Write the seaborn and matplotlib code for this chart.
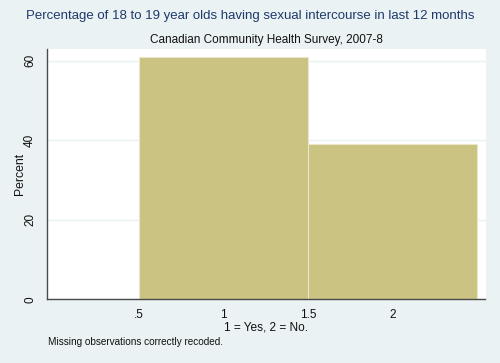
import numpy as np
import pandas as pd
import seaborn as sns
import matplotlib.pyplot as plt

# === DATA ===
#response codes (1 = yes, 2 = no) and their share in percent
codes = [1, 2]
percent = [61, 39]
bin_edges = [0.5, 1.5, 2.5]
x_ticks = [0.5, 1, 1.5, 2]
x_tick_labels = ['.5', '1', '1.5', '2']
y_ticks = [0, 20, 40, 60]

df = pd.DataFrame({'code': codes, 'percent': percent})

# === STYLE ===
sns.set_style('white')
plt.rcParams['font.family'] = ['Liberation Sans', 'DejaVu Sans']

bg = '#eaf2f3'
bar_color = '#cbc382'
axis_color = '#4a4a4a'

fig = plt.figure(figsize=(5, 3.63), dpi=100, facecolor=bg)
ax = fig.add_axes([0.093, 0.1755, 0.878, 0.6895])
ax.set_facecolor('white')

#histogram weighted by the percentages
sns.histplot(data=df, x='code', weights='percent', bins=bin_edges, ax=ax,
             color=bar_color, alpha=1, edgecolor='#ebe7c8', linewidth=0.8)

ax.set_xlim(-0.049, 2.548)
ax.set_ylim(0, 62.9)

#gridlines
ax.set_yticks(y_ticks)
ax.yaxis.grid(True, color=bg, linewidth=1)
ax.set_axisbelow(True)

ax.set_xticks(x_ticks)
ax.set_xticklabels(x_tick_labels)
ax.set_yticklabels([str(v) for v in y_ticks], rotation=90, va='center')

for s in ['top', 'right']:
  ax.spines[s].set_visible(False)
for s in ['left', 'bottom']:
  ax.spines[s].set_color(axis_color)
  ax.spines[s].set_linewidth(1)

ax.tick_params(axis='both', direction='out', length=5, width=1, color=axis_color,
               labelsize=8.5, labelcolor='#111111')
ax.tick_params(axis='y', pad=2.5)
ax.tick_params(axis='x', pad=2)

ax.set_xlabel('1 = Yes, 2 = No.', fontsize=8.6, color='#111111', labelpad=0)
ax.set_ylabel('Percent', fontsize=8.8, color='#111111')
ax.yaxis.set_label_coords(-0.046, 0.5)

#titles and note
fig.text(0.5, 0.955, 'Percentage of 18 to 19 year olds having sexual intercourse in last 12 months',
         ha='center', va='center', fontsize=9.5, color='#1e3a6b')
ax.set_title('Canadian Community Health Survey, 2007-8', fontsize=8.5, color='#111111', pad=4)
fig.text(0.095, 0.058, 'Missing observations correctly recoded.',
         ha='left', va='center', fontsize=7.2, color='#111111')

plt.savefig('out.png', dpi=100, facecolor=bg)
